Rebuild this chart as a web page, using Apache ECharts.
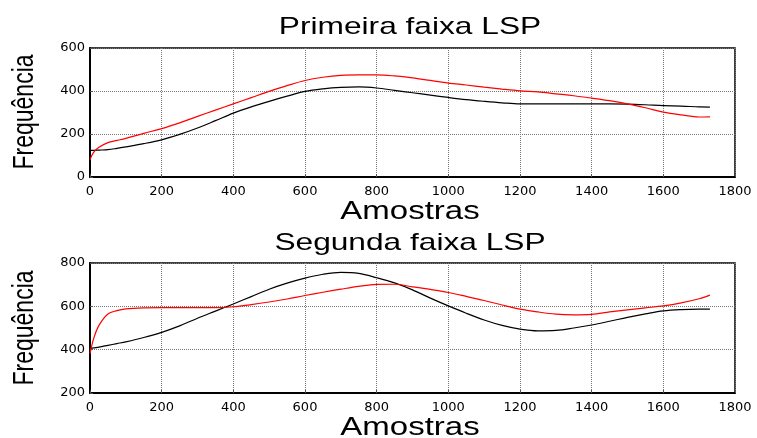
<!DOCTYPE html>
<html>
<head>
<meta charset="utf-8">
<script src="https://cdn.jsdelivr.net/npm/echarts@6/dist/echarts.min.js"></script>
<style>
  html, body { margin: 0; padding: 0; background: #fff; }
  #chart { width: 757px; height: 438px; }
</style>
</head>
<body>
<div id="chart"></div>
<script>
// sample positions (Amostras) shared by all curves
const samples = [0, 10, 25, 50, 75, 100, 150, 200, 250, 300, 350, 400, 450, 500, 550, 600, 650, 700, 750, 800,
    850, 900, 950, 1000, 1050, 1100, 1150, 1200, 1250, 1300, 1350, 1400, 1450, 1500, 1550, 1600, 1650, 1700, 1730];

// Primeira faixa LSP
const firstBlack = [124, 124, 125, 127, 133, 140, 155, 173, 198, 228, 262, 297, 326, 352, 376, 398, 410, 417, 419, 414,
    403, 392, 381, 370, 360, 352, 345, 340, 340, 340, 340, 340, 340, 339, 336, 332, 330, 326, 325];
const firstRed = [80, 115, 138, 160, 170, 180, 203, 225, 252, 282, 311, 340, 369, 398, 425, 449, 464, 473, 475, 475,
    470, 461, 449, 437, 428, 418, 409, 401, 396, 387, 378, 367, 355, 340, 322, 302, 289, 279, 280];

// Segunda faixa LSP
const secondBlack = [405, 408, 412, 420, 428, 436, 456, 480, 510, 545, 578, 611, 645, 679, 707, 730, 748, 757, 752, 732,
    708, 676, 638, 602, 568, 537, 512, 495, 487, 489, 500, 514, 531, 549, 565, 579, 585, 587, 587];
const secondRed = [382, 450, 512, 565, 580, 588, 593, 594, 594, 594, 594, 598, 608, 620, 634, 650, 665, 679, 692, 701,
    702, 690, 678, 664, 646, 627, 606, 587, 574, 564, 561, 563, 574, 584, 593, 602, 616, 635, 652];

const titles = ['Primeira faixa LSP', 'Segunda faixa LSP'];
const xName = 'Amostras';
const yName = 'Frequência';
const yRanges = [[0, 600], [200, 800]];

const FONT = '"Liberation Sans", Arial, sans-serif';
const chart = echarts.init(document.getElementById('chart'));

const pairs = (ys) => samples.map((x, i) => [x, ys[i]]);

function xAxisFor(idx) {
    return {
        type: 'value',
        gridIndex: idx,
        min: 0,
        max: 1800,
        interval: 200,
        axisLine: { show: true, onZero: false, lineStyle: { color: '#000', width: 2 } },
        axisTick: { show: true, inside: true, length: 3, lineStyle: { color: '#555' } },
        axisLabel: { color: '#000', fontFamily: 'DejaVu Sans', fontSize: 13, margin: 8, formatter: (v) => String(v) },
        splitLine: { show: true, lineStyle: { color: '#777', type: 'dotted', width: 1 } },
    };
}

function yAxisFor(idx) {
    return {
        type: 'value',
        gridIndex: idx,
        min: yRanges[idx][0],
        max: yRanges[idx][1],
        interval: 200,
        axisLine: { show: true, onZero: false, lineStyle: { color: '#000', width: 2 } },
        axisTick: { show: true, inside: true, length: 3, lineStyle: { color: '#555' } },
        axisLabel: { color: '#000', fontFamily: 'DejaVu Sans', fontSize: 13, margin: 5, formatter: (v) => String(v) },
        splitLine: { show: true, lineStyle: { color: '#777', type: 'dotted', width: 1 } },
    };
}

function line(idx, ys, color) {
    return {
        type: 'line',
        xAxisIndex: idx,
        yAxisIndex: idx,
        data: pairs(ys),
        symbol: 'none',
        smooth: 0.35,
        lineStyle: { color: color, width: 1.2 },
        silent: true,
    };
}

// stretched text like the original figure
function label(text, x, y, size, rotate) {
    const el = {
        type: 'text',
        x: x,
        y: y,
        silent: true,
        style: {
            text: text,
            font: size + 'px ' + FONT,
            fill: '#000',
            textAlign: 'center',
            textVerticalAlign: 'middle',
        },
    };
    if (rotate) {
        el.rotation = Math.PI / 2;
        el.scaleY = 1.3;
    } else {
        el.scaleX = 1.32;
    }
    return el;
}

chart.setOption({
    backgroundColor: '#fff',
    animation: false,
    grid: [
        { left: 90, top: 48, width: 645, height: 129, show: true, borderColor: '#000', borderWidth: 1.5, backgroundColor: '#fff' },
        { left: 90, top: 263, width: 645, height: 130, show: true, borderColor: '#000', borderWidth: 1.5, backgroundColor: '#fff' },
    ],
    xAxis: [xAxisFor(0), xAxisFor(1)],
    yAxis: [yAxisFor(0), yAxisFor(1)],
    series: [
        line(0, firstBlack, '#000000'),
        line(0, firstRed, '#ff0000'),
        line(1, secondBlack, '#000000'),
        line(1, secondRed, '#ff0000'),
    ],
    graphic: [
        label(titles[0], 410, 27, 24),
        label(xName, 410, 212, 25),
        label(titles[1], 410, 243, 24),
        label(xName, 410, 428, 25),
        label(yName, 25, 112, 23, true),
        label(yName, 25, 328, 23, true),
    ],
});
</script>
</body>
</html>
